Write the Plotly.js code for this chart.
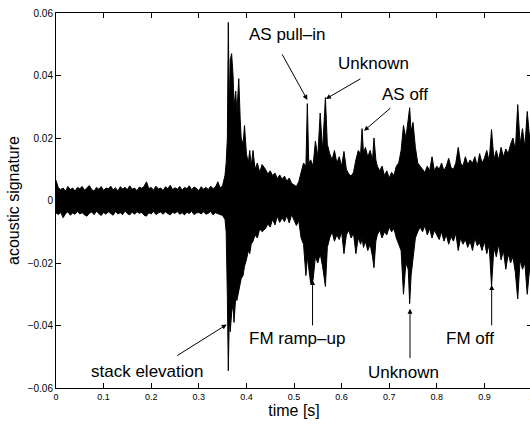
<!DOCTYPE html>
<html>
<head>
<meta charset="utf-8">
<script src="https://cdn.plot.ly/plotly-3.0.1.min.js"></script>
<style>
html,body{margin:0;padding:0;overflow:hidden;background:#fff;}
#chart{width:552px;height:424px;}
</style>
</head>
<body>
<div id="chart"></div>
<script>
// sample times [s]
var t = [
0,0.005,0.01,0.015,0.02,0.025,0.03,0.035,0.04,0.045,
0.05,0.055,0.06,0.065,0.07,0.075,0.08,0.085,0.09,0.095,
0.1,0.105,0.11,0.115,0.12,0.125,0.13,0.135,0.14,0.145,
0.15,0.155,0.16,0.165,0.17,0.175,0.18,0.185,0.19,0.195,
0.2,0.205,0.21,0.215,0.22,0.225,0.23,0.235,0.24,0.245,
0.25,0.255,0.26,0.265,0.27,0.275,0.28,0.285,0.29,0.295,
0.3,0.305,0.31,0.315,0.32,0.325,0.33,0.335,0.34,0.345,
0.35,0.355,
0.3575,0.36,0.362,0.364,0.366,0.369,0.372,0.374,0.3775,0.38,
0.384,0.387,0.389,0.393,0.396,0.4,0.404,0.407,0.41,0.414,
0.418,0.423,0.428,0.433,
0.44,0.445,0.45,0.455,0.46,0.465,0.47,0.475,0.48,0.485,
0.49,0.495,0.5,0.505,0.51,0.515,0.52,0.525,0.528,0.531,
0.535,0.54,0.545,0.55,0.555,0.56,0.566,0.57,0.575,0.58,
0.585,0.59,0.595,0.6,0.605,0.61,0.615,0.62,0.625,0.63,
0.635,0.64,0.643,0.646,0.65,0.655,0.66,0.665,0.668,0.672,
0.675,0.68,0.685,0.69,0.695,0.7,0.705,0.71,0.715,0.72,
0.725,0.73,0.735,0.74,0.743,0.746,0.75,0.755,0.76,0.765,
0.77,0.775,0.78,0.785,0.79,0.795,0.8,0.805,0.81,0.815,
0.82,0.825,0.83,0.835,0.84,0.845,0.85,0.855,0.86,0.865,
0.87,0.875,0.88,0.885,0.89,0.895,0.9,0.905,0.91,0.915,
0.92,0.925,0.93,0.935,0.94,0.945,0.95,0.955,0.96,0.965,
0.97,0.975,0.98,0.985,0.99,0.995,1.0
];
// upper envelope of the acoustic signature
var upper = [
0.0065,0.004,0.0035,0.004,0.003,0.0045,0.0035,0.004,0.003,0.0042,
0.0038,0.0045,0.0033,0.004,0.0048,0.0035,0.003,0.0042,0.0036,0.0045,
0.0032,0.004,0.0038,0.0046,0.0034,0.0041,0.003,0.0044,0.0037,0.0042,
0.0035,0.0047,0.0036,0.004,0.0031,0.0043,0.0039,0.0045,0.006,0.0038,
0.0042,0.0033,0.0046,0.0037,0.004,0.0032,0.0044,0.0038,0.0049,0.0035,
0.0041,0.0036,0.0045,0.0033,0.0042,0.0038,0.0047,0.0034,0.0043,0.0039,
0.0031,0.0044,0.0036,0.0042,0.0035,0.0046,0.0038,0.0043,0.006,0.004,
0.0048,0.008,
0.012,0.02,0.057,0.03,0.045,0.047,0.04,0.03,0.035,0.028,
0.039,0.026,0.02,0.018,0.024,0.015,0.012,0.016,0.011,0.016,
0.01,0.012,0.009,0.0115,
0.010,0.0085,0.0095,0.008,0.0088,0.007,0.0082,0.0068,0.0078,0.0062,
0.0072,0.0055,0.005,0.0045,0.006,0.009,0.012,0.011,0.031,0.012,
0.013,0.011,0.019,0.014,0.028,0.016,0.033,0.018,0.015,0.013,
0.016,0.012,0.014,0.011,0.0157,0.01,0.0085,0.0078,0.009,0.013,
0.016,0.015,0.023,0.015,0.017,0.014,0.016,0.013,0.020,0.013,
0.011,0.0095,0.011,0.008,0.0095,0.0072,0.009,0.008,0.011,0.012,
0.016,0.024,0.02,0.026,0.0297,0.022,0.025,0.017,0.012,0.011,
0.01,0.009,0.011,0.0095,0.014,0.0095,0.011,0.01,0.012,0.0095,
0.011,0.0135,0.0105,0.01,0.012,0.017,0.012,0.011,0.014,0.0115,
0.013,0.012,0.014,0.011,0.015,0.012,0.0135,0.016,0.0125,0.0227,
0.013,0.016,0.013,0.017,0.014,0.0165,0.015,0.018,0.02,0.016,
0.0307,0.018,0.023,0.017,0.0285,0.02,0.025
];
// lower envelope of the acoustic signature
var lower = [
-0.004,-0.0045,-0.0038,-0.0055,-0.0042,-0.0036,-0.0047,-0.004,-0.0044,-0.0035,
-0.0043,-0.0039,-0.0046,-0.005,-0.0041,-0.0037,-0.0045,-0.0034,-0.0042,-0.0048,
-0.0038,-0.0044,-0.0036,-0.0041,-0.0047,-0.0035,-0.0043,-0.0039,-0.0045,-0.0033,
-0.0042,-0.0046,-0.0037,-0.0044,-0.0036,-0.0041,-0.0038,-0.0047,-0.005,-0.0039,
-0.0043,-0.0035,-0.0045,-0.004,-0.0037,-0.0044,-0.0036,-0.0042,-0.0046,-0.0038,
-0.0041,-0.0035,-0.0044,-0.0039,-0.0046,-0.0037,-0.0042,-0.0034,-0.0045,-0.004,
-0.0038,-0.0043,-0.0036,-0.0044,-0.0041,-0.0035,-0.0046,-0.0039,-0.0042,-0.0044,
-0.0048,-0.006,
-0.01,-0.031,-0.0545,-0.038,-0.042,-0.036,-0.033,-0.039,-0.031,-0.032,
-0.029,-0.027,-0.025,-0.024,-0.021,-0.019,-0.016,-0.017,-0.014,-0.013,
-0.011,-0.012,-0.009,-0.01,
-0.009,-0.0075,-0.0085,-0.006,-0.0078,-0.005,-0.007,-0.0055,-0.0068,-0.0048,
-0.0072,-0.0045,-0.006,-0.008,-0.0065,-0.012,-0.014,-0.024,-0.018,-0.021,
-0.0265,-0.0255,-0.018,-0.02,-0.017,-0.021,-0.0275,-0.015,-0.012,-0.01,
-0.013,-0.011,-0.0125,-0.01,-0.017,-0.011,-0.0095,-0.012,-0.0105,-0.017,
-0.012,-0.014,-0.012,-0.015,-0.013,-0.016,-0.014,-0.018,-0.0215,-0.013,
-0.011,-0.0095,-0.012,-0.01,-0.011,-0.0085,-0.01,-0.009,-0.012,-0.014,
-0.016,-0.03,-0.02,-0.022,-0.033,-0.024,-0.018,-0.012,-0.01,-0.0085,
-0.01,-0.008,-0.011,-0.009,-0.012,-0.0095,-0.011,-0.0125,-0.01,-0.013,
-0.011,-0.014,-0.0115,-0.013,-0.0105,-0.016,-0.012,-0.014,-0.0125,-0.015,
-0.013,-0.016,-0.012,-0.0145,-0.0135,-0.016,-0.013,-0.017,-0.014,-0.0275,
-0.015,-0.018,-0.014,-0.019,-0.016,-0.022,-0.017,-0.02,-0.018,-0.023,
-0.0315,-0.019,-0.022,-0.02,-0.03,-0.022,-0.025
];

// annotation labels, arrow heads (data) and arrow offsets / label positions
var labels   = ["AS pull\u2013in","Unknown","AS off","stack elevation","FM ramp\u2013up","Unknown","FM off"];
var labelX   = [0.487, 0.668, 0.733, 0.192, 0.507, 0.729, 0.8687];
var labelY   = [0.0530, 0.0438, 0.0338, -0.0546, -0.0442, -0.0549, -0.0442];
var headX    = [0.528, 0.567, 0.647, 0.3586, 0.539, 0.7437, 0.9153];
var headY    = [0.0322, 0.0325, 0.0223, -0.0397, -0.0254, -0.0346, -0.027];
var arrowDX  = [-26, 36, 28, -51, 0, 0, 0];
var arrowDY  = [-47, -21, -24, 32, 47, 51, 42];

var FONT = "Liberation Sans, Arial, Helvetica, sans-serif";

var traces = [
  {x: t, y: lower, type: "scatter", mode: "lines",
   line: {color: "#000", width: 1}, hoverinfo: "skip", showlegend: false},
  {x: t, y: upper, type: "scatter", mode: "lines", fill: "tonexty",
   fillcolor: "#000", line: {color: "#000", width: 1}, hoverinfo: "skip", showlegend: false}
];

var annotations = [];
for (var i = 0; i < labels.length; i++) {
  annotations.push({x: labelX[i], y: labelY[i], xref: "x", yref: "y",
    text: labels[i], showarrow: false, font: {family: FONT, size: 17, color: "#000"}});
  annotations.push({x: headX[i], y: headY[i], xref: "x", yref: "y", text: "",
    showarrow: true, ax: arrowDX[i], ay: arrowDY[i], arrowhead: 2, arrowsize: 1,
    arrowwidth: 1, arrowcolor: "#000"});
}

var layout = {
  width: 552, height: 424,
  margin: {l: 56, r: 20, t: 13, b: 36},
  paper_bgcolor: "#fff", plot_bgcolor: "#fff",
  font: {family: FONT, color: "#000"},
  showlegend: false,
  xaxis: {range: [0, 1], dtick: 0.1, tick0: 0, ticks: "inside", ticklen: 5,
    tickcolor: "#000", showline: true, linecolor: "#000", linewidth: 1, mirror: "ticks",
    showgrid: false, zeroline: false, tickfont: {size: 9, family: FONT},
    title: {text: "time [s]", font: {size: 16, family: FONT}, standoff: 3}},
  yaxis: {range: [-0.06, 0.06], dtick: 0.02, tick0: 0, ticks: "inside", ticklen: 5,
    tickcolor: "#000", showline: true, linecolor: "#000", linewidth: 1, mirror: "ticks",
    showgrid: false, zeroline: false, tickfont: {size: 10, family: FONT},
    title: {text: "acoustic signature", font: {size: 16, family: FONT}, standoff: 4}},
  annotations: annotations
};

Plotly.newPlot("chart", traces, layout, {staticPlot: true, displayModeBar: false});
</script>
</body>
</html>
